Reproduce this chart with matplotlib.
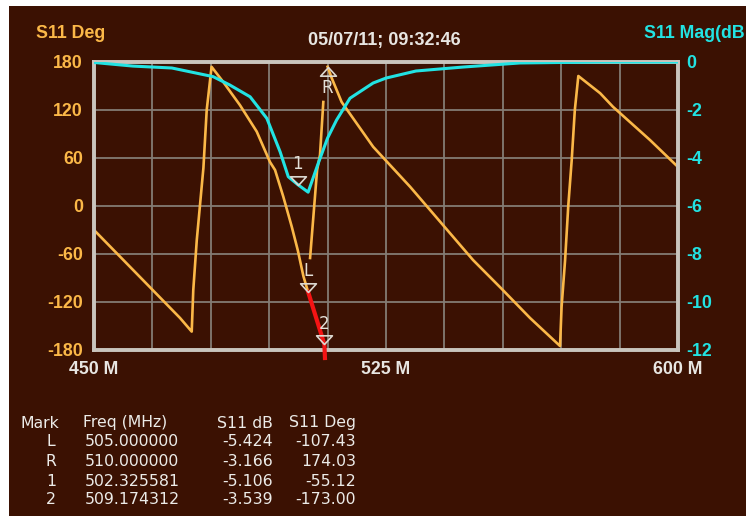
import numpy as np
import matplotlib.pyplot as plt
from matplotlib.patches import Rectangle
from matplotlib.path import Path

plt.rcParams['axes.unicode_minus'] = False
nan = np.nan

# S11 phase trace (deg), NaN breaks where the trace is not drawn
phase_freq = [450.0, 472.1, 475.1, 475.5, 476.4, 478.1, 478.95, 480.2, 483.2, 487.5,
              491.8, 495.2, 496.5, 498.6, 500.8, 502.33, 503.8, 504.6, 505.0, nan,
              505.5, 507.3, 508.05, 508.9, nan,
              510.0, 511.05, 513.6, 521.7, 531.2, 547.35, 554.5, 562.0, 569.7, 570.1,
              571.0, 571.8, 572.7, 573.5, 574.4, 580.0, 583.3, 592.8, 600.0]
phase_deg = [-30, -140, -157, -105, -42.5, 47.5, 120, 174, 155, 126,
             93, 55, 45, 12, -26, -55.12, -88, -101, -107.43, nan,
             -65, 45, 64, 130, nan,
             174.03, 160, 130, 74, 24, -67.5, -102.5, -140, -175, -126,
             -67.5, -1, 57.5, 120, 162.5, 141, 124, 82.5, 48.75]

# span between markers L and 2 (highlighted)
span_freq = [505.0, 509.17, 509.32]
span_deg = [-107.43, -173.0, -190.0]

# S11 magnitude trace (dB)
mag_freq = [450, 460, 470, 480.6, 484.9, 490.1, 494.4, 497.8, 499.9, 502.33, 505.0,
            507.6, 510.0, 512.3, 515.75, 521.7, 525, 532.7, 544.8, 559.4, 580, 600]
mag_db = [-0.02, -0.17, -0.25, -0.61, -0.96, -1.45, -2.35, -3.74, -4.78, -5.106, -5.424,
          -4.22, -3.166, -2.42, -1.51, -0.875, -0.67, -0.375, -0.21, -0.04, 0.0, 0.0]

# marker table
mark_names = ['L', 'R', '1', '2']
mark_freq = [505.000000, 510.000000, 502.325581, 509.174312]
mark_db = [-5.424, -3.166, -5.106, -3.539]
mark_deg = [-107.43, 174.03, -55.12, -173.00]
mark_on_mag = [False, False, True, False]
mark_up = [False, True, False, False]

bg = '#3b1102'
orange = '#fbb848'
cyan = '#22e3e3'
red = '#f41414'
grid_c = '#847c74'
frame_c = '#c9c5bd'
txt = '#e8e6e2'
bold = dict(family='Liberation Sans', fontweight='bold', fontsize=12.8)

fig = plt.figure(figsize=(7.46, 5.16), dpi=100, facecolor='white')
fig.patches.append(Rectangle((9 / 746, 0), 1, 510 / 516, transform=fig.transFigure,
                             facecolor=bg, edgecolor='none', zorder=-10))

W, H = 746, 516
ax = fig.add_axes([94 / W, (H - 350) / H, 584 / W, 288 / H])
ax.set_facecolor(bg)
ax.set_xlim(450, 600)
ax.set_ylim(-180, 180)
ax.set_xticks(np.linspace(450, 600, 11))
ax.set_xticklabels(['450 M' if i == 0 else '525 M' if i == 5 else '600 M' if i == 10 else ''
                    for i in range(11)])
ax.set_yticks(np.arange(-180, 181, 60))
ax.grid(True, color=grid_c, lw=1.3)
ax.tick_params(length=0, pad=8)
for lab in ax.get_xticklabels():
    lab.set(color=txt, **bold)
for lab in ax.get_yticklabels():
    lab.set(color=orange, **bold)
for s in ax.spines.values():
    s.set_color(frame_c)
    s.set_linewidth(2.6)
    s.set_zorder(5)

ax2 = ax.twinx()
ax2.set_ylim(-12, 0)
ax2.set_yticks(np.arange(-12, 1, 2))
ax2.tick_params(length=0, pad=6)
for lab in ax2.get_yticklabels():
    lab.set(color=cyan, **bold)
for s in ax2.spines.values():
    s.set_color(frame_c)
    s.set_linewidth(2.6)

ax.plot(phase_freq, phase_deg, color=orange, lw=1.9, zorder=3)
ax2.plot(mag_freq, mag_db, color=cyan, lw=2.2, zorder=3)
ax2.plot(span_freq, span_deg, color=red, lw=3.0, transform=ax.transData,
         clip_on=False, zorder=6)

# triangle markers with the tip at the data point
tri_down = Path([(0, 0), (-1, 1.1), (1, 1.1), (0, 0)],
                [Path.MOVETO, Path.LINETO, Path.LINETO, Path.CLOSEPOLY])
tri_up = Path([(0, 0), (-1, -1.1), (1, -1.1), (0, 0)],
              [Path.MOVETO, Path.LINETO, Path.LINETO, Path.CLOSEPOLY])
for name, f, db, dg, on_mag, up in zip(mark_names, mark_freq, mark_db, mark_deg,
                                       mark_on_mag, mark_up):
    yv = db if on_mag else dg
    tr = ax2.transData if on_mag else ax.transData
    ax2.plot([f], [yv], marker=tri_up if up else tri_down, ms=12.5, mfc='none',
             mec='#dcd8d0', mew=1.2, transform=tr, zorder=7, clip_on=False)
    ax2.annotate(name, (f, yv), xycoords=tr, xytext=(0, -15 if up else 15),
                 textcoords='offset points', ha='center', va='center',
                 fontsize=12, color='#e4e0d8', family='DejaVu Sans', zorder=8)

fig.text(36 / W, 1 - 33 / H, 'S11 Deg', color=orange, va='center', ha='left', **bold)
fig.text(745 / W, 1 - 33 / H, 'S11 Mag(dB', color=cyan, va='center', ha='right', **bold)
fig.text(384 / W, 1 - 40 / H, '05/07/11; 09:32:46', color=txt, va='center', ha='center',
         family='Liberation Sans', fontweight='bold', fontsize=13)

# marker readout table
tk = dict(color='#ecebe8', fontsize=11.3, family='DejaVu Sans', va='center')
row_y = [442, 461, 481, 499]
fig.text(21 / W, 1 - 423 / H, 'Mark', ha='left', **tk)
fig.text(83 / W, 1 - 423 / H, 'Freq (MHz)', ha='left', **tk)
fig.text(273 / W, 1 - 423 / H, 'S11 dB', ha='right', **tk)
fig.text(356 / W, 1 - 423 / H, 'S11 Deg', ha='right', **tk)
for name, f, db, dg, y in zip(mark_names, mark_freq, mark_db, mark_deg, row_y):
    fig.text(51 / W, 1 - y / H, name, ha='center', **tk)
    fig.text(85 / W, 1 - y / H, f'{f:.6f}', ha='left', **tk)
    fig.text(273 / W, 1 - y / H, f'{db:.3f}', ha='right', **tk)
    fig.text(356 / W, 1 - y / H, f'{dg:.2f}', ha='right', **tk)

fig.savefig('out.png', dpi=100, facecolor='white')
